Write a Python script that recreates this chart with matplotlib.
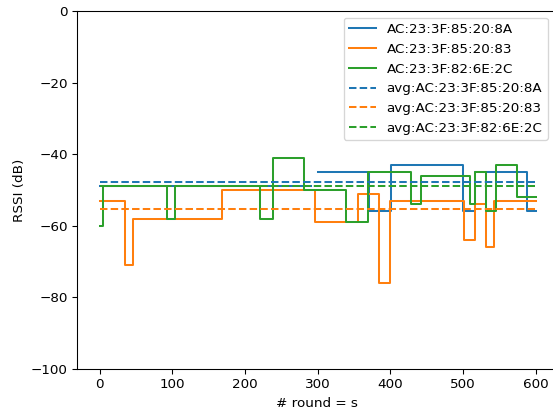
import numpy as np
import matplotlib
matplotlib.use("Agg")
import matplotlib.pyplot as plt

# Step-series data: breakpoints (round) and RSSI value from that round onwards
names = ["AC:23:3F:85:20:8A", "AC:23:3F:85:20:83", "AC:23:3F:82:6E:2C"]

blue_x = [0, 291, 300, 371, 401, 500, 517, 588, 600]
blue_y = [-49, np.nan, -45, -56, -43, -56, -45, -56, -56]

orange_x = [0, 35, 46, 168, 296, 356, 384, 399, 501, 516, 531, 543, 600]
orange_y = [-53, -71, -58, -50, -59, -51, -76, -53, -64, -54, -66, -53, -53]

green_x = [0, 5, 93, 104, 221, 239, 281, 339, 369, 428, 442, 510, 516, 532, 546, 574, 600]
green_y = [-60, -49, -58, -49, -58, -41, -50, -59, -45, -54, -46, -54, -45, -56, -43, -52, -52]

averages = [-47.8, -55.3, -48.8]
avg_span = [0, 600]

xticks = [0, 100, 200, 300, 400, 500, 600]
yticks = [0, -20, -40, -60, -80, -100]

DPI = 96.8
W, H = 553, 416
fig = plt.figure(figsize=(W / DPI, H / DPI), dpi=DPI)
left, right, top, bottom = 77.3, 557.5, 11.0, 369.0
ax = fig.add_axes([left / W, (H - bottom) / H, (right - left) / W, (bottom - top) / H])

colors = ["#1f77b4", "#ff7f0e", "#2ca02c"]
series = [(blue_x, blue_y), (orange_x, orange_y), (green_x, green_y)]
for (xs, ys), name, c in zip(series, names, colors):
    ax.plot(xs, ys, drawstyle="steps-post", color=c, label=name)
for avg, name, c in zip(averages, names, colors):
    ax.plot(avg_span, [avg, avg], "--", color=c, label="avg:" + name)

ax.set_ylim(-100, 0)
ax.set_xlim(-30.7, 630)
ax.set_xticks(xticks)
ax.set_yticks(yticks)
ax.set_xlabel("# round = s")
ax.set_ylabel("RSSI (dB)")
ax.legend(loc="upper right", bbox_to_anchor=(0.994, 1.0))

fig.savefig("out.png", dpi=DPI)
